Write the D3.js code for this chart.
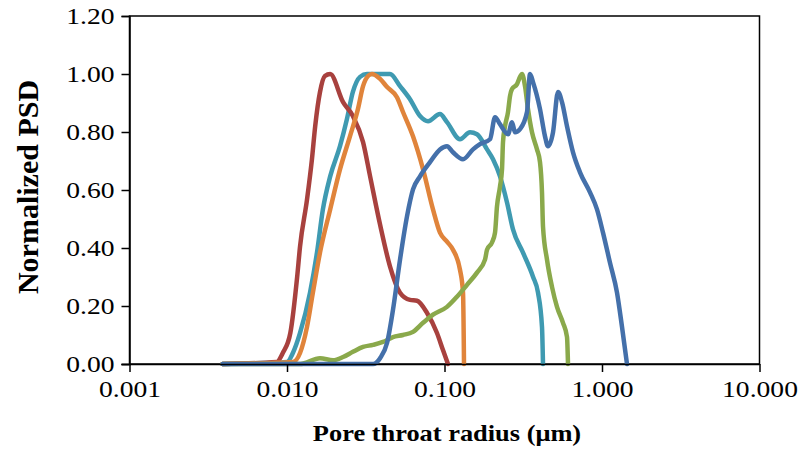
<!DOCTYPE html>
<html>
<head>
<meta charset="utf-8">
<script src="https://cdn.jsdelivr.net/npm/d3@7"></script>
<style>
  body { margin: 0; background: #fff; }
  #chart { width: 800px; height: 450px; }
  text { font-family: "Liberation Serif", "Times New Roman", serif; fill: #000; }
</style>
</head>
<body>
<div id="chart"></div>
<script>
// axis ticks
const xTicks = [0.001, 0.01, 0.1, 1, 10];
const yTicks = [0, 0.2, 0.4, 0.6, 0.8, 1.0, 1.2];

// pore throat radius (um) / normalized PSD, one pair of arrays per sample
const redX = [0.0039, 0.0086, 0.0094, 0.0105, 0.0116, 0.0121, 0.0134, 0.0144, 0.0151, 0.0162, 0.0174, 0.0188, 0.0227, 0.0262, 0.0304, 0.0337, 0.0390, 0.0451, 0.0522, 0.0604, 0.0669, 0.0775, 0.0896, 0.0978, 0.1052];
const redY = [0, 0.007, 0.038, 0.107, 0.30, 0.405, 0.567, 0.706, 0.82, 0.938, 0.993, 1.0, 0.903, 0.855, 0.765, 0.647, 0.48, 0.336, 0.246, 0.221, 0.218, 0.176, 0.107, 0.048, 0];

const orangeX = [0.0039, 0.0109, 0.0121, 0.0134, 0.0146, 0.0162, 0.0188, 0.0217, 0.0251, 0.0282, 0.0304, 0.0327, 0.0346, 0.0390, 0.0432, 0.0499, 0.0545, 0.0631, 0.0731, 0.0845, 0.0936, 0.1037, 0.1132, 0.1254, 0.1311, 0.1330];
const orangeY = [0, 0.007, 0.038, 0.128, 0.246, 0.384, 0.533, 0.671, 0.785, 0.879, 0.958, 0.993, 1.0, 0.983, 0.955, 0.92, 0.869, 0.785, 0.671, 0.533, 0.453, 0.422, 0.394, 0.325, 0.246, 0];

const tealX = [0.0039, 0.0100, 0.0109, 0.0121, 0.0140, 0.0155, 0.0169, 0.0188, 0.0217, 0.0240, 0.0262, 0.0291, 0.0322, 0.0390, 0.0451, 0.0522, 0.0604, 0.0699, 0.0786, 0.0936, 0.1037, 0.1254, 0.1452, 0.1608, 0.1862, 0.2033, 0.2251, 0.2494, 0.2722, 0.3151, 0.3647, 0.3924, 0.4159, 0.4221];
const tealY = [0, 0.007, 0.038, 0.107, 0.246, 0.384, 0.533, 0.647, 0.751, 0.844, 0.938, 0.99, 1.0, 1.0, 1.0, 0.958, 0.913, 0.855, 0.837, 0.862, 0.834, 0.775, 0.799, 0.792, 0.74, 0.706, 0.647, 0.557, 0.464, 0.384, 0.301, 0.246, 0.128, 0];

const greenX = [0.0039, 0.0121, 0.0162, 0.0196, 0.0227, 0.0262, 0.0304, 0.0352, 0.0407, 0.0471, 0.0545, 0.0631, 0.0731, 0.0845, 0.1037, 0.1200, 0.1390, 0.1608, 0.1808, 0.1862, 0.2003, 0.2093, 0.2154, 0.2251, 0.2318, 0.2352, 0.2422, 0.2531, 0.2606, 0.2683, 0.2887, 0.3016, 0.3105, 0.3245, 0.3390, 0.3594, 0.3866, 0.4040, 0.4159, 0.4221, 0.4475, 0.4814, 0.5179, 0.5654, 0.5995, 0.6083];
const greenY = [0, 0, 0.02, 0.013, 0.024, 0.042, 0.059, 0.066, 0.076, 0.093, 0.1, 0.111, 0.142, 0.17, 0.197, 0.232, 0.273, 0.315, 0.36, 0.394, 0.419, 0.453, 0.543, 0.612, 0.671, 0.765, 0.82, 0.869, 0.924, 0.948, 0.965, 0.99, 1.0, 0.958, 0.879, 0.799, 0.74, 0.696, 0.592, 0.474, 0.36, 0.266, 0.197, 0.142, 0.093, 0];

const blueX = [0.0039, 0.0352, 0.0390, 0.0432, 0.0471, 0.0522, 0.0578, 0.0631, 0.0699, 0.0809, 0.0936, 0.1037, 0.1132, 0.1311, 0.1517, 0.1680, 0.1945, 0.2093, 0.2251, 0.2531, 0.2683, 0.2804, 0.3016, 0.3341, 0.3491, 0.3647, 0.4040, 0.4346, 0.4541, 0.4886, 0.5255, 0.5572, 0.5995, 0.6546, 0.7250, 0.8391, 0.9297, 1.0146, 1.1239, 1.2453, 1.3397, 1.4411];
const blueY = [0, 0, 0.02, 0.073, 0.187, 0.36, 0.509, 0.602, 0.647, 0.696, 0.74, 0.751, 0.73, 0.706, 0.74, 0.758, 0.775, 0.851, 0.827, 0.792, 0.834, 0.799, 0.81, 0.869, 1.0, 0.972, 0.879, 0.785, 0.751, 0.799, 0.938, 0.903, 0.82, 0.73, 0.661, 0.592, 0.533, 0.453, 0.349, 0.246, 0.128, 0];

// drawing order: blue last so it covers the flat zero parts
const series = [
    { xs: tealX,   ys: tealY,   color: "#3f9ab1" },
    { xs: redX,    ys: redY,    color: "#a8413e" },
    { xs: orangeX, ys: orangeY, color: "#e0843b" },
    { xs: greenX,  ys: greenY,  color: "#8aa94b" },
    { xs: blueX,   ys: blueY,   color: "#4470aa" }
];

const width = 800, height = 450;
const margin = { top: 16, right: 40.5, bottom: 86, left: 129.5 };
const stretch = 1.15; // labels in the picture are a bit wider than plain Times

const svg = d3.select("#chart").append("svg")
    .attr("width", width)
    .attr("height", height);

const x = d3.scaleLog().domain([0.001, 10]).range([margin.left, width - margin.right]);
const y = d3.scaleLinear().domain([0, 1.2]).range([height - margin.bottom, margin.top]);

// plot frame (top + right)
svg.append("rect")
    .attr("x", margin.left)
    .attr("y", margin.top)
    .attr("width", width - margin.right - margin.left)
    .attr("height", height - margin.bottom - margin.top)
    .attr("fill", "none")
    .attr("stroke", "#000")
    .attr("stroke-width", 1.5);

const line = d3.line()
    .x(d => x(d[0]))
    .y(d => y(d[1]))
    .curve(d3.curveMonotoneX);

series.forEach(s => {
    const pts = s.xs.map((v, i) => [v, s.ys[i]]);
    svg.append("path")
        .datum(pts)
        .attr("fill", "none")
        .attr("stroke", s.color)
        .attr("stroke-width", 4.5)
        .attr("stroke-linejoin", "round")
        .attr("stroke-linecap", "round")
        .attr("d", line);
});

const xAxis = svg.append("g")
    .attr("transform", `translate(0,${height - margin.bottom})`)
    .call(d3.axisBottom(x).tickValues(xTicks).tickFormat(d3.format(".3f")).tickSize(8).tickPadding(8));

const yAxis = svg.append("g")
    .attr("transform", `translate(${margin.left},0)`)
    .call(d3.axisLeft(y).tickValues(yTicks).tickFormat(d3.format(".2f")).tickSize(8).tickPadding(5));

[xAxis, yAxis].forEach(g => {
    g.select(".domain").attr("stroke", "#000").attr("stroke-width", 1.5);
    g.selectAll(".tick line").attr("stroke", "#000").attr("stroke-width", 1.5);
    g.selectAll(".tick text")
        .attr("font-family", "Liberation Serif")
        .attr("font-size", 24)
        .attr("fill", "#000")
        .attr("transform", `scale(${stretch},1)`);
});
// x-axis line starts a bit left of the y axis (excel style)
xAxis.select(".domain").attr("d", `M${margin.left - 8},0.5H${width - margin.right}`);

svg.append("text")
    .attr("transform", `translate(447,441) scale(1.1,1)`)
    .attr("text-anchor", "middle")
    .attr("font-size", 24)
    .attr("font-weight", "bold")
    .text("Pore throat radius (μm)");

svg.append("text")
    .attr("transform", "translate(38,187) rotate(-90)")
    .attr("text-anchor", "middle")
    .attr("font-size", 30)
    .attr("font-weight", "bold")
    .text("Normalized PSD");
</script>
</body>
</html>
